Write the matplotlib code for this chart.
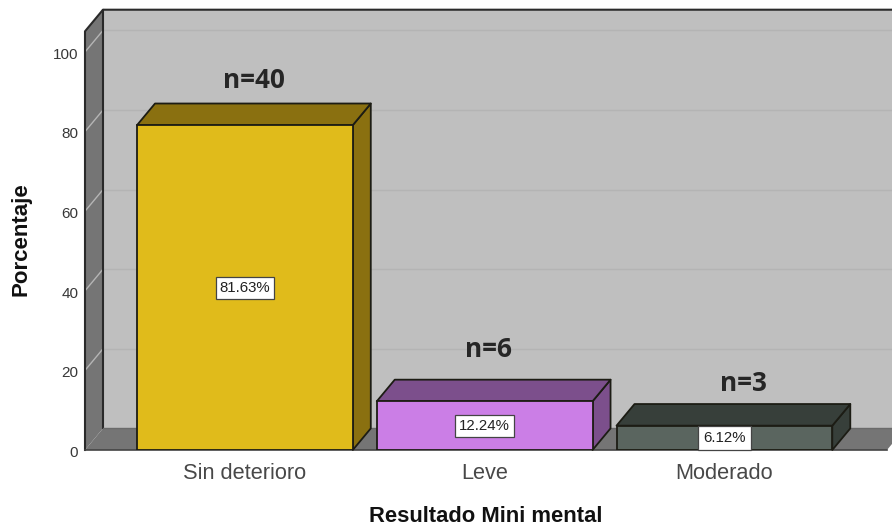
import matplotlib
matplotlib.use("Agg")
import matplotlib.pyplot as plt
from matplotlib.patches import Polygon
from matplotlib.transforms import ScaledTranslation

categories = ["Sin deterioro", "Leve", "Moderado"]
percentages = [81.63, 12.24, 6.12]
counts = [40, 6, 3]
y_ticks = [0, 20, 40, 60, 80, 100]

# Pseudo-3D layout, in axis units
BAR_WIDTH = 0.9
DEPTH_X = 0.075
DEPTH_Y = 5.43
FRONT_TOP = 105.2
X_MIN, X_MAX = -0.667, 2.699
Y_MAX = 113.07
FLOOR_RIGHT = 2.678
COUNT_LABEL_LIFT = [11.1, 13.1, 10.7]
COUNT_LABEL_SHIFT = [0.038, 0.017, 0.079]
VALUE_BOX_PAD = [0.27, 0.27, 0.33]

FRONT_COLORS = ["#e0bb1b", "#cb7ee6", "#5a655f"]
DARK_COLORS = ["#8a7010", "#7c4f8c", "#373f3a"]
EDGE = "#1c1c14"
WALL = "#bfbfbf"
SIDE = "#757575"

W, H = 892, 527
fig = plt.figure(figsize=(W / 100, H / 100), dpi=100, facecolor="white")
ax = fig.add_axes([85 / W, (H - 450) / H, (892 - 85) / W, 450 / H])
ax.set_xlim(X_MIN, X_MAX)
ax.set_ylim(0, Y_MAX)
ax.patch.set_visible(False)
for spine in ax.spines.values():
    spine.set_visible(False)


def poly(points, face, edge="none", lw=0.0, z=1):
    ax.add_patch(Polygon(points, closed=True, facecolor=face, edgecolor=edge,
                         linewidth=lw, zorder=z, clip_on=False,
                         joinstyle="round"))


# Back wall, left wall and floor
bx, by = X_MIN + DEPTH_X, DEPTH_Y
poly([(bx, by), (X_MAX + 0.2, by), (X_MAX + 0.2, FRONT_TOP + DEPTH_Y),
      (bx, FRONT_TOP + DEPTH_Y)], WALL, z=1)
poly([(X_MIN, 0), (bx, by), (bx, FRONT_TOP + DEPTH_Y), (X_MIN, FRONT_TOP)],
     SIDE, z=1)
poly([(X_MIN, 0), (FLOOR_RIGHT, 0), (FLOOR_RIGHT + DEPTH_X, by),
      (X_MAX + 0.2, by), (bx, by)], SIDE, z=1)

# Gridlines run along the back wall and fold onto the left wall
for t in y_ticks[1:]:
    ax.plot([bx, X_MAX + 0.2], [t + by, t + by], color="#b4b4b4", lw=1.0,
            zorder=2, clip_on=True)
    ax.plot([X_MIN, bx], [t, t + by], color="#b5b5b5", lw=1.0, zorder=2,
            clip_on=False)

# Wall outlines
ax.plot([X_MIN, X_MIN, bx, X_MAX + 0.2], [0, FRONT_TOP, FRONT_TOP + DEPTH_Y, FRONT_TOP + DEPTH_Y],
        color="#2a2a2a", lw=1.5, zorder=3, clip_on=False)
ax.plot([bx, bx], [by, FRONT_TOP + DEPTH_Y], color="#2a2a2a", lw=1.5, zorder=3)
ax.plot([bx, X_MAX + 0.2], [by, by], color="#6a6a6a", lw=1.0, zorder=3)
ax.plot([X_MIN, FLOOR_RIGHT], [0, 0], color="#444444", lw=1.2, zorder=3, clip_on=False)

# Bars: front face from the axis, side and top faces offset by the depth
xs = list(range(len(categories)))
bars = ax.bar(xs, percentages, width=BAR_WIDTH, color=FRONT_COLORS,
              edgecolor=EDGE, linewidth=1.3, zorder=5)
for bar, dark in zip(bars, DARK_COLORS):
    x0, x1 = bar.get_x(), bar.get_x() + bar.get_width()
    top = bar.get_height()
    poly([(x1, 0), (x1 + DEPTH_X, by), (x1 + DEPTH_X, top + by), (x1, top)],
         dark, EDGE, 1.3, z=4)
    poly([(x0, top), (x0 + DEPTH_X, top + by), (x1 + DEPTH_X, top + by), (x1, top)],
         dark, EDGE, 1.3, z=4)

# Value boxes in the centre of each front face, counts above each bar
for x, v, n, lift, shift, pad in zip(xs, percentages, counts, COUNT_LABEL_LIFT,
                                     COUNT_LABEL_SHIFT, VALUE_BOX_PAD):
    ax.text(x, v / 2, f"{v:.2f}%", ha="center", va="center", fontsize=10.8,
            family="Liberation Sans", color="#222222", zorder=7,
            bbox=dict(boxstyle=f"square,pad={pad}", facecolor="white",
                      edgecolor="#444444", linewidth=0.9))
    ax.text(x + shift, v + lift, f"n={n}", ha="center", va="center",
            fontsize=18.8, fontweight="bold", family="Open Sans",
            color="#262626", zorder=7)

ax.set_xticks(xs, categories, family="Liberation Sans", fontsize=15.7, color="#484848")
ax.set_yticks(y_ticks, [str(t) for t in y_ticks], family="Liberation Sans",
              fontsize=11, color="#383838", va="center")
ax.tick_params(axis="x", length=0, pad=9.5)
ax.tick_params(axis="y", length=0, pad=4.8)
# Numbers sit just under their tick height
nudge = ScaledTranslation(0, -2 / 72, fig.dpi_scale_trans)
for lab in ax.get_yticklabels():
    lab.set_transform(lab.get_transform() + nudge)

fig.text(486 / W, 1 - 516 / H, "Resultado Mini mental", ha="center", va="center",
         family="Liberation Sans", fontweight="bold", fontsize=15.8, color="#111111")
fig.text(21 / W, 1 - 239 / H, "Porcentaje", ha="center", va="center", rotation=90,
         family="Liberation Sans", fontweight="bold", fontsize=16, color="#111111")

fig.savefig("out.png", dpi=100, facecolor="white")
